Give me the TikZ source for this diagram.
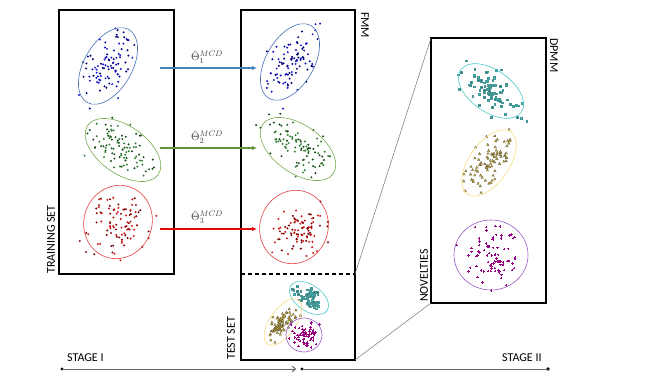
\documentclass[tikz,border=0pt]{standalone}
\usepackage{fontspec}
\setmainfont{Carlito}
\usetikzlibrary{arrows.meta}
\definecolor{bluept}{RGB}{20,20,200}
\definecolor{bluedk}{RGB}{0,0,120}
\definecolor{blueel}{RGB}{70,110,180}
\definecolor{bluear}{RGB}{70,130,190}
\definecolor{greenpt}{RGB}{50,125,50}
\definecolor{greendk}{RGB}{20,75,20}
\definecolor{greenel}{RGB}{120,170,80}
\definecolor{greenar}{RGB}{100,145,60}
\definecolor{redpt}{RGB}{205,20,20}
\definecolor{reddk}{RGB}{125,0,0}
\definecolor{redel}{RGB}{230,60,60}
\definecolor{redar}{RGB}{225,10,10}
\definecolor{cyanpt}{RGB}{30,205,205}
\definecolor{cyanmd}{RGB}{70,150,150}
\definecolor{cyandk}{RGB}{30,95,95}
\definecolor{cyanel}{RGB}{70,200,200}
\definecolor{yelpt}{RGB}{205,170,35}
\definecolor{yelel}{RGB}{250,220,130}
\definecolor{purpt}{RGB}{150,0,130}
\definecolor{purel}{RGB}{150,90,200}
\newcommand\cloud[7]{%
  \foreach \k in {1,...,#6}{%
    \pgfmathsetmacro\pa{#4*(rand+rand+rand)}%
    \pgfmathsetmacro\pb{#5*(rand+rand+rand)}%
    \pgfmathsetmacro\px{#1+\pa*cos(#3)-\pb*sin(#3)}%
    \pgfmathsetmacro\py{#2-\pa*sin(#3)-\pb*cos(#3)}%
    #7%
  }}
\newcommand\dotm[2]{\ifodd\k\fill[#1] (\px,\py) circle[radius=1.1pt];\else\fill[#2] (\px,\py) circle[radius=1.1pt];\fi}
\newcommand\sqm{\pgfmathtruncatemacro\km{mod(\k,3)}%
  \ifcase\km\def\sqc{cyanpt}\or\def\sqc{cyanmd}\else\def\sqc{cyandk}\fi
  \filldraw[fill=\sqc,draw=cyanmd,line width=0.2pt] (\px,\py) ++(-0.9pt,-0.9pt) rectangle ++(1.8pt,1.8pt);}
\newcommand\trim{\filldraw[fill=yelpt,draw=black!70,line width=0.2pt] (\px,\py) ++(0pt,1.4pt) -- ++(-1.3pt,-2.3pt) -- ++(2.6pt,0pt) -- cycle;}
\newcommand\plm{\draw[purpt,line width=0.6pt] (\px,\py) ++(-1.2pt,0pt) -- ++(2.4pt,0pt) (\px,\py) ++(0pt,-1.2pt) -- ++(0pt,2.4pt);}
\begin{document}
\begin{tikzpicture}[x=1pt,y=-1pt,
  frame/.style={draw=black, line width=1.1pt, inner sep=0pt, outer sep=0pt, anchor=north west},
  lbl/.style={inner sep=0pt, font=\fontsize{12}{14}\selectfont},
  mlbl/.style={inner sep=0pt, text=black!75, font=\fontsize{11}{13}\selectfont},
  ell/.style={line width=0.6pt},
  flow/.style={line width=1.2pt, -{Latex[length=5pt,width=4.5pt]}},
  zoomln/.style={draw=black!55, line width=0.5pt},
  stage/.style={draw=black!60, line width=1pt}]
\useasboundingbox (0,0) rectangle (667,375);
\pgfmathsetseed{4711}
% boxes
\node[frame, minimum width=115pt, minimum height=264pt] (train) at (59,10) {};
\node[frame, minimum width=114pt, minimum height=350pt] (fmm) at (241,10) {};
\node[frame, minimum width=115pt, minimum height=265pt] (dpmm) at (431,38) {};
\coordinate (dl) at (241,274);
\coordinate (dr) at (355,274);
\draw[line width=1.1pt, dash pattern=on 4pt off 3pt] (dl) -- (dr);
\draw[zoomln] (dr) -- (dpmm.north west);
\draw[zoomln] (fmm.south east) -- (dpmm.south west);
% training clusters
\cloud{108}{66}{60}{18}{10}{95}{\dotm{bluept}{bluedk}}
\draw[ell, blueel, rotate around={60:(108,66)}] (108,66) ellipse [x radius=42pt, y radius=24pt];
\cloud{123}{150}{-35}{18}{10}{95}{\dotm{greenpt}{greendk}}
\draw[ell, greenel, rotate around={-35:(123,150)}] (123,150) ellipse [x radius=43pt, y radius=24pt];
\cloud{118}{222}{70}{15}{14}{95}{\dotm{redpt}{reddk}}
\draw[ell, redel, rotate around={70:(118,222)}] (118,222) ellipse [x radius=37pt, y radius=34pt];
% FMM clusters
\cloud{292}{60}{60}{18}{10}{95}{\dotm{bluept}{bluedk}}
\draw[ell, blueel, rotate around={60:(290,62)}] (290,62) ellipse [x radius=42pt, y radius=24pt];
\cloud{296}{146}{-35}{18}{10}{95}{\dotm{greenpt}{greendk}}
\draw[ell, greenel, rotate around={-35:(298,149)}] (298,149) ellipse [x radius=43pt, y radius=24pt];
\cloud{298}{232}{20}{15}{11}{95}{\dotm{redpt}{reddk}}
\draw[ell, redel, rotate around={70:(294,227)}] (294,227) ellipse [x radius=37pt, y radius=34pt];
% test set
\cloud{310}{299}{-35}{8}{4}{70}{\sqm}
\draw[ell, cyanel, rotate around={-35:(309,298)}] (309,298) ellipse [x radius=22pt, y radius=13pt];
\cloud{282}{323}{50}{9}{4}{80}{\trim}
\draw[ell, yelel, rotate around={55:(283,322)}] (283,322) ellipse [x radius=27pt, y radius=13pt];
\cloud{304}{335}{0}{6}{6}{70}{\plm}
\draw[ell, purel] (304,335) ellipse [x radius=18pt, y radius=17pt];
% DPMM clusters
\cloud{492}{91}{-35}{17}{9}{85}{\sqm}
\draw[ell, cyanel, rotate around={-35:(491,91)}] (491,91) ellipse [x radius=37pt, y radius=21pt];
\cloud{489}{162}{55}{16}{8}{85}{\trim}
\draw[ell, yelel, rotate around={55:(489,163)}] (489,163) ellipse [x radius=38pt, y radius=20pt];
\cloud{491}{255}{0}{14}{13}{85}{\plm}
\draw[ell, purel] (491,255) ellipse [x radius=37pt, y radius=35pt];
% arrows
\coordinate (a1s) at (160,68); \coordinate (a1e) at (257,68);
\coordinate (a2s) at (160,148); \coordinate (a2e) at (257,148);
\coordinate (a3s) at (160,229); \coordinate (a3e) at (257,229);
\draw[flow, bluear] (a1s) -- (a1e);
\draw[flow, greenar] (a2s) -- (a2e);
\draw[flow, redar] (a3s) -- (a3e);
\node[mlbl] (t1) at (207,57) {$\hat{\Theta}_1^{MCD}$};
\node[mlbl] (t2) at (207,137) {$\hat{\Theta}_2^{MCD}$};
\node[mlbl] (t3) at (207,217) {$\hat{\Theta}_3^{MCD}$};
% labels
\node[lbl, rotate=90, anchor=west] (ltrain) at (51,274) {TRAINING SET};
\node[lbl, rotate=-90, anchor=west] (lfmm) at (365,12) {FMM};
\node[lbl, rotate=90, anchor=west] (ltest) at (231,360) {TEST SET};
\node[lbl, rotate=90, anchor=west] (lnov) at (424,302) {NOVELTIES};
\node[lbl, rotate=-90, anchor=west] (ldpmm) at (554,38) {DPMM};
\node[lbl, anchor=west] (ls1) at (67,358) {STAGE I};
\node[lbl, anchor=west] (ls2) at (502,358) {STAGE II};
% stage line
\coordinate (s1a) at (62,369); \coordinate (s1b) at (296,369);
\coordinate (s2a) at (302,369); \coordinate (s2b) at (548,369);
\fill[black] (s1a) circle[radius=1.6pt];
\fill[black] (s2a) circle[radius=1.6pt];
\fill[black] (s2b) circle[radius=1.8pt];
\draw[stage, -{To[length=4pt,width=6pt]}] (s1a) -- (s1b);
\draw[stage] (s2a) -- (s2b);
\end{tikzpicture}
\end{document}
